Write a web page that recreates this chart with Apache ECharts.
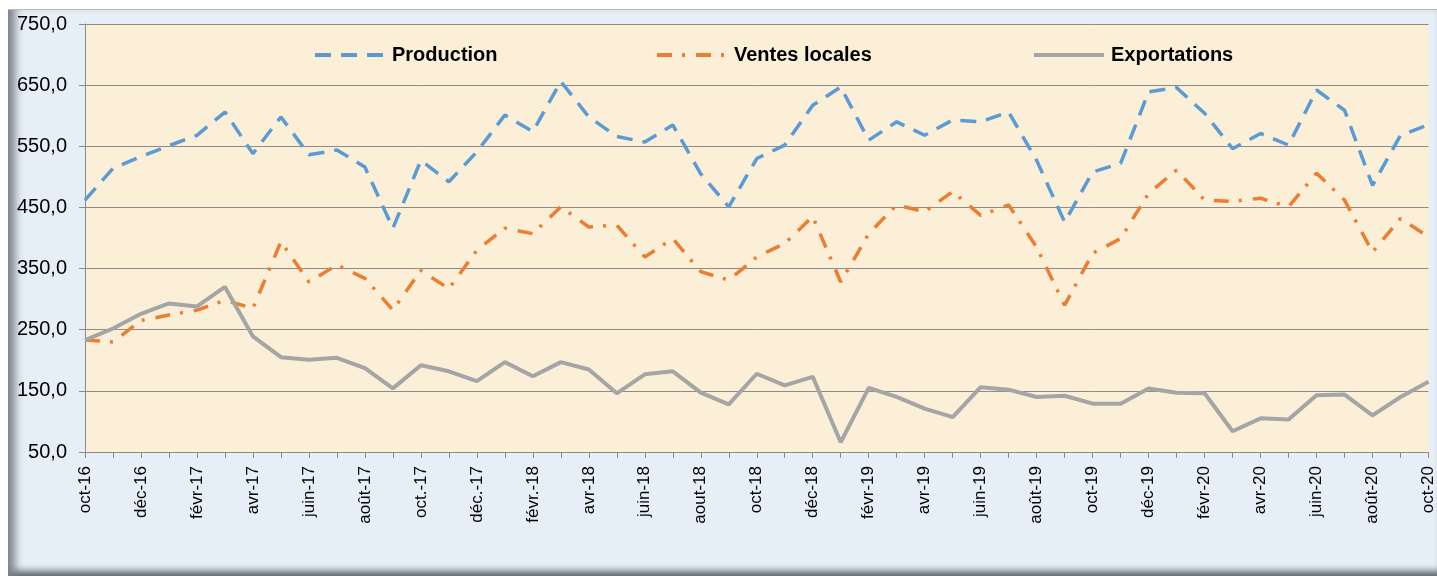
<!DOCTYPE html>
<html>
<head>
<meta charset="utf-8">
<script src="https://cdn.jsdelivr.net/npm/echarts@6/dist/echarts.min.js"></script>
<style>
  html, body { margin: 0; padding: 0; background: #ffffff; }
  #frame {
    position: absolute; left: 8px; top: 9px; width: 1429px; height: 567px;
    background: #e6eef7;
    border-top: 1px solid #b8bcc2;
    box-shadow: inset 12px 0 8px -5px #7d838b, inset 0 -11px 7px -5px #5f656d;
  }
  #chart { position: absolute; left: 0; top: 0; width: 1437px; height: 576px; }
</style>
</head>
<body>
<div id="frame"></div>
<div id="chart"></div>
<script>
var months = [
  "oct-16", "nov-16", "déc-16", "janv-17", "févr-17", "mars-17", "avr-17", "mai-17",
  "juin-17", "juil-17", "août-17", "sept-17", "oct.-17", "nov.-17", "déc.-17", "janv.-18",
  "févr.-18", "mars-18", "avr-18", "mai-18", "juin-18", "juil-18", "aout-18", "sept-18",
  "oct-18", "nov-18", "déc-18", "janv-19", "févr-19", "mars-19", "avr-19", "mai-19",
  "juin-19", "juil-19", "août-19", "sept-19", "oct-19", "nov-19", "déc-19", "janv-20",
  "févr-20", "mars-20", "avr-20", "mai-20", "juin-20", "juil-20", "août-20", "sept-20", "oct-20"
];

var production = [
  462, 514, 533, 551, 568, 606, 538, 598, 536, 544, 516, 416, 527, 492, 541, 601,
  574, 656, 598, 566, 557, 585, 505, 451, 530, 552, 617, 647, 560, 590, 568, 593,
  590, 606, 527, 426, 508, 522, 639, 646, 604, 546, 571, 552, 642, 609, 486, 568, 585
];

var ventesLocales = [
  233, 230, 265, 274, 282, 298, 285, 394, 328, 356, 334, 282, 347, 317, 380, 416,
  407, 451, 418, 421, 369, 399, 345, 331, 369, 391, 435, 328, 407, 454, 443, 476,
  437, 454, 385, 290, 375, 399, 473, 511, 462, 460, 465, 451, 506, 462, 377, 432, 402
];

var exportations = [
  233, 252, 276, 293, 288, 320, 239, 205, 201, 204, 187, 154, 192, 182, 166, 197,
  174, 197, 185, 146, 177, 182, 147, 128, 178, 159, 173, 66, 155, 140, 121, 107,
  156, 152, 140, 142, 129, 129, 154, 147, 146, 84, 105, 103, 143, 144, 110, 140, 165
];

var seriesNames = ["Production", "Ventes locales", "Exportations"];
var yTicks = { min: 50, max: 750, step: 100 };

var chart = echarts.init(document.getElementById("chart"));

function lineSeries(name, data, color, dash, width) {
  return {
    name: name,
    type: "line",
    data: data,
    symbol: "none",
    color: color,
    lineStyle: { color: color, width: width, type: dash, cap: "butt" },
    z: 3
  };
}

// one legend per item so each sits where the original places it
function legendAt(name, left) {
  return {
    data: [name],
    left: left, top: 45, padding: 0,
    itemWidth: 70, itemHeight: 20,
    itemStyle: { opacity: 0 },
    lineStyle: { width: 4 },
    textStyle: { fontSize: 20, fontWeight: "bold", color: "#000", padding: [0, 0, 0, 2] }
  };
}

chart.setOption({
  animation: false,
  textStyle: { fontFamily: "Liberation Sans, Arial, sans-serif" },
  grid: {
    left: 85, right: 7, top: 24, bottom: 124,
    show: true, backgroundColor: "#fcefd7", borderWidth: 0
  },
  legend: [
    legendAt(seriesNames[0], 313),
    legendAt(seriesNames[1], 655),
    legendAt(seriesNames[2], 1032)
  ],
  xAxis: {
    type: "category",
    data: months,
    boundaryGap: false,
    axisLine: { lineStyle: { color: "#8a8a8a", width: 1 } },
    axisTick: { interval: 0, length: 6, lineStyle: { color: "#8a8a8a" } },
    axisLabel: { interval: 1, rotate: 90, fontSize: 17, color: "#000", margin: 14 },
    splitLine: { show: false }
  },
  yAxis: {
    type: "value",
    min: yTicks.min, max: yTicks.max, interval: yTicks.step,
    axisLine: { show: true, lineStyle: { color: "#8a8a8a", width: 1 } },
    axisTick: { show: true, length: 6, lineStyle: { color: "#8a8a8a" } },
    axisLabel: {
      fontSize: 20, color: "#000", margin: 18,
      formatter: function (v) { return v.toFixed(1).replace(".", ","); }
    },
    splitLine: { lineStyle: { color: "#8c8c8c", width: 1 } }
  },
  series: [
    lineSeries(seriesNames[0], production, "#5b9bd5", [16, 10], 3.5),
    lineSeries(seriesNames[1], ventesLocales, "#ed7d31", [15, 10, 3, 11], 3.5),
    lineSeries(seriesNames[2], exportations, "#a5a5a5", "solid", 4)
  ]
});
</script>
</body>
</html>
